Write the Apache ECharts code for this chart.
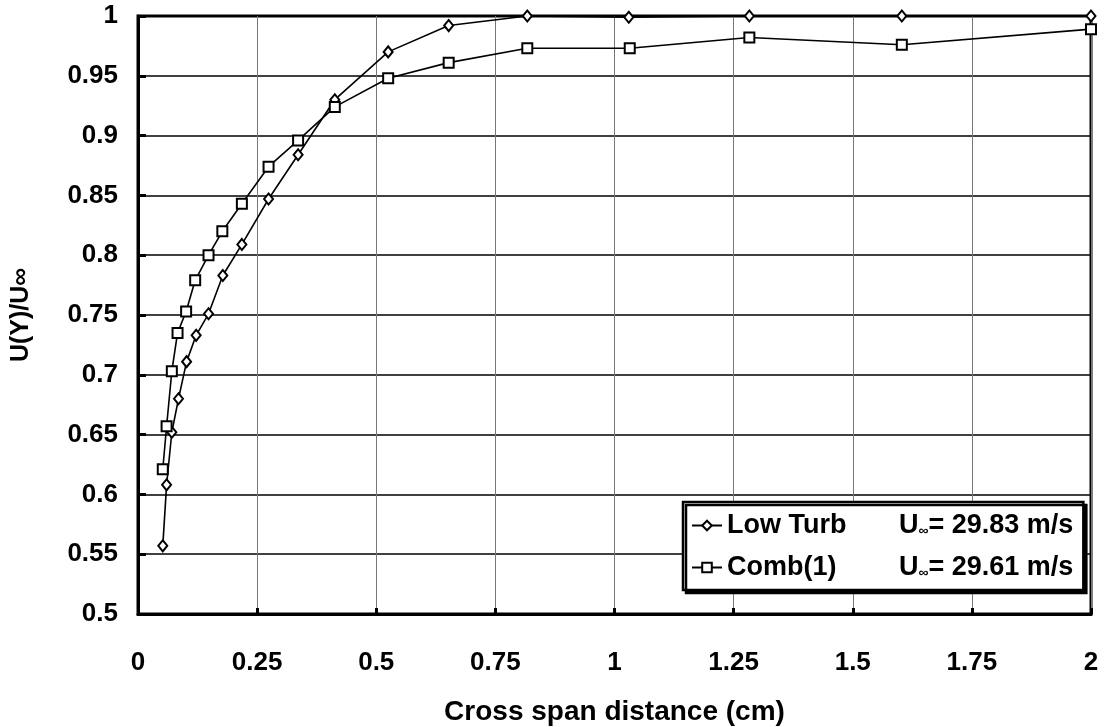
<!DOCTYPE html>
<html>
<head>
<meta charset="utf-8">
<script src="https://cdn.jsdelivr.net/npm/echarts@6/dist/echarts.min.js"></script>
<style>
html,body{margin:0;padding:0;background:#fff;}
#chart{width:1107px;height:727px;}
</style>
</head>
<body>
<div id="chart"></div>
<script>
// Data
const lowTurbX = [0.052, 0.060, 0.071, 0.085, 0.102, 0.122, 0.148, 0.178, 0.218, 0.274, 0.336, 0.413, 0.525, 0.652, 0.817, 1.030, 1.283, 1.603, 2.0];
const lowTurbY = [0.557, 0.608, 0.652, 0.680, 0.711, 0.733, 0.751, 0.783, 0.809, 0.847, 0.884, 0.930, 0.970, 0.992, 1.0, 0.999, 1.0, 1.0, 1.0];
const combX = [0.052, 0.060, 0.071, 0.083, 0.101, 0.120, 0.148, 0.177, 0.218, 0.274, 0.336, 0.413, 0.525, 0.652, 0.817, 1.032, 1.283, 1.603, 2.0];
const combY = [0.621, 0.657, 0.703, 0.735, 0.753, 0.779, 0.800, 0.820, 0.843, 0.874, 0.896, 0.924, 0.948, 0.961, 0.973, 0.973, 0.982, 0.976, 0.989];
const seriesNames = ['Low Turb', 'Comb(1)'];
const freeStream = ['29.83', '29.61'];
const xTickLabels = ['0', '0.25', '0.5', '0.75', '1', '1.25', '1.5', '1.75', '2'];
const yTickLabels = ['0.5', '0.55', '0.6', '0.65', '0.7', '0.75', '0.8', '0.85', '0.9', '0.95', '1'];

const FONT = "'Liberation Sans', Arial, sans-serif";
const zip = (xs, ys) => xs.map((x, i) => [x, ys[i]]);
const txt = (size) => ({fontFamily: FONT, fontWeight: 'bold', fontSize: size, color: '#000'});

const chart = echarts.init(document.getElementById('chart'), null, {renderer: 'canvas'});
chart.setOption({
  backgroundColor: '#fff',
  animation: false,
  grid: {left: 138, right: 16, top: 16, bottom: 113, containLabel: false, outerBoundsMode: 'none',
    show: true, borderColor: '#000', borderWidth: 3, backgroundColor: 'transparent'},
  xAxis: {
    type: 'value', min: 0, max: 2, interval: 0.25,
    name: 'Cross span distance (cm)', nameLocation: 'middle', nameGap: 84,
    nameTextStyle: txt(28),
    axisLine: {show: true, lineStyle: {color: '#000', width: 3}},
    axisTick: {show: true, inside: true, length: 6, lineStyle: {color: '#000', width: 3}},
    axisLabel: Object.assign({margin: 36, formatter: (v) => xTickLabels[Math.round(v / 0.25)]}, txt(26)),
    splitLine: {show: true, lineStyle: {color: '#777', width: 1}}
  },
  yAxis: {
    type: 'value', min: 0.5, max: 1, interval: 0.05,
    name: 'U(Y)/U∞', nameLocation: 'middle', nameGap: 104,
    nameTextStyle: txt(25),
    axisLine: {show: true, lineStyle: {color: '#000', width: 3}},
    axisTick: {show: true, inside: true, length: 8, lineStyle: {color: '#000', width: 3}},
    axisLabel: Object.assign({margin: 20, formatter: (v) => yTickLabels[Math.round((v - 0.5) / 0.05)]}, txt(26)),
    splitLine: {show: true, lineStyle: {color: '#000', width: 1.5}}
  },
  legend: {
    left: 683, top: 502, orient: 'vertical',
    backgroundColor: '#fff', borderColor: '#000', borderWidth: 2.5,
    shadowColor: '#000', shadowOffsetX: 3, shadowOffsetY: 3, shadowBlur: 0,
    padding: [10, 10, 9, 8], itemGap: 15, itemWidth: 30, itemHeight: 12,
    data: seriesNames,
    formatter: (name) => {
      const i = seriesNames.indexOf(name);
      return '{n|' + name + '}{u|U}{s|∞}{v|= ' + freeStream[i] + ' m/s}';
    },
    textStyle: Object.assign({
      rich: {
        n: Object.assign({width: 172, lineHeight: 32}, txt(27)),
        u: Object.assign({lineHeight: 32}, txt(27)),
        s: Object.assign({padding: [12, 0, 0, 0], lineHeight: 32}, txt(14)),
        v: Object.assign({lineHeight: 32}, txt(27))
      }
    }, txt(27))
  },
  series: [
    {
      name: seriesNames[0], type: 'line', data: zip(lowTurbX, lowTurbY), clip: false,
      symbol: 'emptyDiamond', symbolSize: [9, 11],
      lineStyle: {color: '#000', width: 1.6}, itemStyle: {color: '#000', borderColor: '#000', borderWidth: 1.6}
    },
    {
      name: seriesNames[1], type: 'line', data: zip(combX, combY), clip: false,
      symbol: 'emptyRect', symbolSize: 10,
      lineStyle: {color: '#000', width: 1.6}, itemStyle: {color: '#000', borderColor: '#000', borderWidth: 1.6}
    }
  ]
});
</script>
</body>
</html>
